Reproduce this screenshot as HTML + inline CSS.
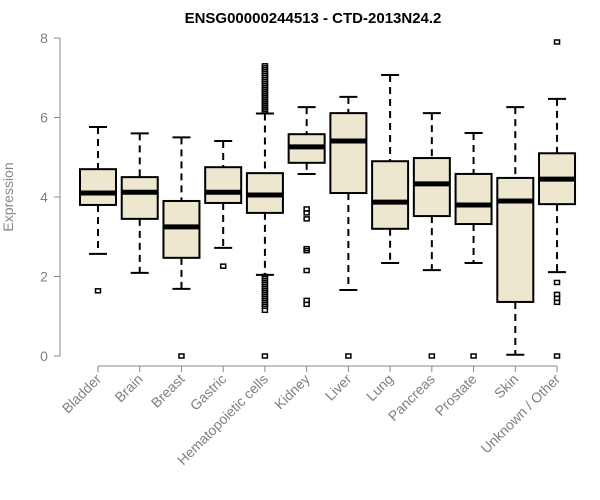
<!DOCTYPE html>
<html><head><meta charset="utf-8"><style>body{margin:0;background:#fff}svg{display:block}</style></head>
<body>
<svg id="chart" width="600" height="500" font-family="Liberation Sans, Arial, sans-serif"></svg>
<script>
const categories=["Bladder","Brain","Breast","Gastric","Hematopoietic cells","Kidney","Liver","Lung","Pancreas","Prostate","Skin","Unknown / Other"];
const whiskerLow=[2.57,2.09,1.69,2.72,2.04,4.58,1.66,2.34,2.16,2.34,0.03,2.11];
const q1=[3.80,3.45,2.47,3.85,3.60,4.86,4.10,3.20,3.52,3.32,1.36,3.82];
const medians=[4.10,4.12,3.25,4.12,4.05,5.26,5.41,3.87,4.33,3.80,3.90,4.45];
const q3=[4.70,4.50,3.90,4.75,4.60,5.58,6.11,4.90,4.98,4.58,4.48,5.10];
const whiskerHigh=[5.76,5.60,5.50,5.41,6.10,6.26,6.52,7.07,6.11,5.61,6.26,6.47];
const outliers=[[1.64],[],[0],[2.26],[0,1.15,1.25,1.3,1.4,1.45,1.5,1.6,1.65,1.7,1.8,1.85,1.95,2.0,6.15,6.2,6.25,6.3,6.35,6.4,6.45,6.5,6.55,6.6,6.65,6.7,6.75,6.8,6.85,6.9,6.95,7.0,7.05,7.1,7.15,7.2,7.25,7.3],[3.7,3.6,3.45,2.7,2.65,2.15,1.4,1.3],[0],[],[0],[0],[],[7.9,1.85,1.55,1.45,1.35,0]];
const yTicks=[0,2,4,6,8];
const NS="http://www.w3.org/2000/svg";
const svg=document.getElementById('chart');
const y=v=>356-v*39.75;
const x=i=>98+i*41.73;
function mk(t,a,p){const e=document.createElementNS(NS,t);for(const k in a)e.setAttribute(k,a[k]);(p||svg).appendChild(e);return e;}
const title=mk('text',{x:313,y:23,'text-anchor':'middle','font-weight':'bold','font-size':15});
title.textContent="ENSG00000244513 - CTD-2013N24.2";


const yaxis=mk('g',{});


mk('line',{x1:60,x2:60,y1:y(8),y2:y(0),stroke:'#888'},yaxis);
yTicks.forEach(t=>{mk('line',{x1:54,x2:60,y1:y(t),y2:y(t),stroke:'#888'},yaxis);
const l=mk('text',{x:44,y:y(t)+5,'text-anchor':'middle',fill:'#808080','font-size':14},yaxis);l.textContent=t;

});
const yt=mk('text',{x:13,y:197,'text-anchor':'middle',fill:'#888','font-size':14,transform:'rotate(-90 13 197)'});
yt.textContent="Expression";


const xaxis=mk('g',{});


mk('line',{x1:x(0),x2:x(11),y1:366,y2:366,stroke:'#888'},xaxis);
categories.forEach((c,i)=>{mk('line',{x1:x(i),x2:x(i),y1:366,y2:372,stroke:'#888'},xaxis);
const l=mk('text',{x:x(i)+4,y:380,'text-anchor':'end',fill:'#808080','font-size':14,transform:`rotate(-45 ${x(i)+4} 380)`},xaxis);l.textContent=c;

});
categories.forEach((c,i)=>{const g=mk('g',{});


const cx=x(i),w=18;
mk('line',{x1:cx,x2:cx,y1:y(whiskerHigh[i]),y2:y(q3[i]),stroke:'#000','stroke-width':2,'stroke-dasharray':'7,5'},g);
mk('line',{x1:cx,x2:cx,y1:y(q1[i]),y2:y(whiskerLow[i]),stroke:'#000','stroke-width':2,'stroke-dasharray':'7,5'},g);
mk('line',{x1:cx-9,x2:cx+9,y1:y(whiskerHigh[i]),y2:y(whiskerHigh[i]),stroke:'#000','stroke-width':2},g);
mk('line',{x1:cx-9,x2:cx+9,y1:y(whiskerLow[i]),y2:y(whiskerLow[i]),stroke:'#000','stroke-width':2},g);
mk('rect',{x:cx-w,y:y(q3[i]),width:2*w,height:y(q1[i])-y(q3[i]),fill:'#ede7cf',stroke:'#000','stroke-width':2},g);
mk('line',{x1:cx-w,x2:cx+w,y1:y(medians[i]),y2:y(medians[i]),stroke:'#000','stroke-width':5},g);
outliers[i].forEach(o=>mk('rect',{x:cx-2.5,y:y(o)-2,width:5,height:4,fill:'none',stroke:'#000','stroke-width':1.5},g));
});
</script>
</body></html>
